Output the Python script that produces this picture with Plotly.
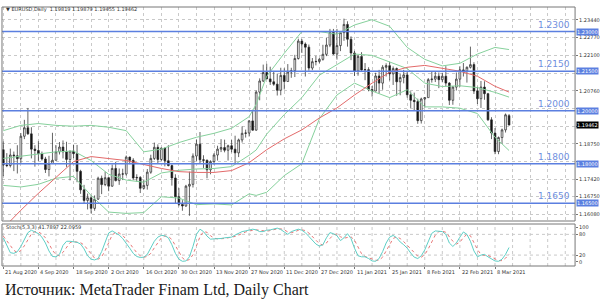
import plotly.graph_objects as go

# ---------------- data ----------------
bars = list(range(145))
opens = [1.1853,1.1795,1.1793,1.1833,1.1830,1.1819,1.1904,1.1936,1.1913,1.1855,
         1.1850,1.1838,1.1818,1.1778,1.1801,1.1813,1.1845,1.1863,1.1845,1.1816,
         1.1848,1.1838,1.1771,1.1701,1.1661,1.1671,1.1631,1.1666,1.1745,1.1721,
         1.1747,1.1715,1.1782,1.1736,1.1761,1.1761,1.1825,1.1813,1.1746,1.1748,
         1.1707,1.1718,1.1768,1.1820,1.1862,1.1816,1.1859,1.1811,1.1793,1.1746,
         1.1675,1.1646,1.1640,1.1715,1.1722,1.1829,1.1874,1.1815,1.1813,1.1777,
         1.1808,1.1833,1.1855,1.1861,1.1851,1.1868,1.1855,1.1841,1.1890,1.1915,
         1.1916,1.1962,1.1927,1.2071,1.2113,1.2145,1.2121,1.2110,1.2101,1.2078,
         1.2134,1.2111,1.2147,1.2152,1.2198,1.2264,1.2253,1.2241,1.2162,1.2186,
         1.2187,1.2195,1.2214,1.2249,1.2297,1.2215,1.2247,1.2296,1.2327,1.2271,
         1.2219,1.2151,1.2206,1.2155,1.2156,1.2081,1.2075,1.2132,1.2105,1.2165,
         1.2171,1.2140,1.2160,1.2110,1.2126,1.2136,1.2061,1.2040,1.2035,1.1963,
         1.2045,1.2050,1.2118,1.2120,1.2131,1.2118,1.2131,1.2105,1.2040,1.2090,
         1.2120,1.2155,1.2150,1.2165,1.2175,1.2075,1.2046,1.2090,1.2065,1.1966,
         1.1916,1.1846,1.1899,1.1928,1.19819]
highs = [1.1884,1.1840,1.1857,1.1846,1.1870,1.1916,1.1966,1.2011,1.1938,1.1870,
         1.1885,1.1846,1.1826,1.1830,1.1917,1.1870,1.1882,1.1888,1.1883,1.1846,
         1.1872,1.1871,1.1777,1.1720,1.1687,1.1681,1.1680,1.1751,1.1755,1.1770,
         1.1748,1.1797,1.1807,1.1782,1.1781,1.1831,1.1827,1.1821,1.1760,1.1753,
         1.1740,1.1780,1.1834,1.1880,1.1873,1.1861,1.1861,1.1870,1.1797,1.1760,
         1.1708,1.1662,1.1720,1.1770,1.1839,1.1891,1.1920,1.1832,1.1816,1.1813,
         1.1840,1.1868,1.1893,1.1891,1.1872,1.1890,1.1906,1.1895,1.1941,1.1929,
         1.1965,1.2004,1.2077,1.2123,1.2175,1.2178,1.2167,1.2151,1.2141,1.2163,
         1.2161,1.2177,1.2163,1.2212,1.2273,1.2272,1.2259,1.2251,1.2200,1.2208,
         1.2200,1.2250,1.2276,1.2310,1.2310,1.2310,1.2300,1.2349,1.2339,1.2282,
         1.2227,1.2211,1.2222,1.2181,1.2165,1.2094,1.2144,1.2155,1.2173,1.2180,
         1.2185,1.2168,1.2164,1.2139,1.2155,1.2150,1.2074,1.2069,1.2046,1.2050,
         1.2050,1.2124,1.2150,1.2150,1.2145,1.2144,1.2169,1.2109,1.2094,1.2145,
         1.2169,1.2181,1.2168,1.2243,1.2184,1.2091,1.2113,1.2112,1.2068,1.1976,
         1.1935,1.1903,1.1933,1.1990,1.19879]
lows = [1.1753,1.1787,1.1786,1.1772,1.1763,1.1800,1.1893,1.1909,1.1820,1.1789,
        1.1810,1.1812,1.1765,1.1752,1.1800,1.1812,1.1835,1.1820,1.1788,1.1737,
        1.1821,1.1730,1.1686,1.1651,1.1627,1.1612,1.1622,1.1663,1.1685,1.1715,
        1.1696,1.1713,1.1733,1.1720,1.1738,1.1755,1.1798,1.1738,1.1732,1.1689,
        1.1703,1.1702,1.1762,1.1814,1.1802,1.1809,1.1790,1.1790,1.1717,1.1650,
        1.1639,1.1622,1.1637,1.1603,1.1710,1.1810,1.1800,1.1784,1.1745,1.1760,
        1.1797,1.1812,1.1844,1.1843,1.1812,1.1843,1.1801,1.1825,1.1880,1.1899,
        1.1903,1.1925,1.1925,1.2040,1.2109,1.2127,1.2098,1.2095,1.2058,1.2059,
        1.2081,1.2111,1.2125,1.2128,1.2194,1.2219,1.2130,1.2152,1.2154,1.2172,
        1.2180,1.2190,1.2207,1.2241,1.2212,1.2194,1.2226,1.2265,1.2243,1.2192,
        1.2132,1.2133,1.2152,1.2116,1.2074,1.2054,1.2074,1.2065,1.2080,1.2130,
        1.2115,1.2098,1.2057,1.2059,1.2104,1.2050,1.2011,1.2003,1.1951,1.1952,
        1.2012,1.2050,1.2107,1.2109,1.2086,1.2108,1.2093,1.2022,1.2023,1.2077,
        1.2091,1.2130,1.2107,1.2160,1.2064,1.2026,1.2011,1.2042,1.1962,1.1893,
        1.1836,1.1836,1.1876,1.1918,1.19455]
closes = [1.1795,1.1793,1.1833,1.1830,1.1819,1.1904,1.1936,1.1913,1.1855,1.1850,
          1.1838,1.1818,1.1778,1.1801,1.1813,1.1845,1.1863,1.1845,1.1816,1.1848,
          1.1838,1.1771,1.1701,1.1661,1.1671,1.1631,1.1666,1.1745,1.1721,1.1747,
          1.1715,1.1782,1.1736,1.1761,1.1761,1.1825,1.1813,1.1746,1.1748,1.1707,
          1.1718,1.1768,1.1820,1.1862,1.1816,1.1859,1.1811,1.1793,1.1746,1.1675,
          1.1646,1.1640,1.1715,1.1722,1.1829,1.1874,1.1815,1.1813,1.1777,1.1808,
          1.1833,1.1855,1.1861,1.1851,1.1868,1.1855,1.1841,1.1890,1.1915,1.1916,
          1.1962,1.1927,1.2071,1.2113,1.2145,1.2121,1.2110,1.2101,1.2078,1.2134,
          1.2111,1.2147,1.2152,1.2198,1.2264,1.2253,1.2241,1.2162,1.2186,1.2187,
          1.2195,1.2214,1.2249,1.2297,1.2215,1.2247,1.2296,1.2327,1.2271,1.2219,
          1.2151,1.2206,1.2155,1.2156,1.2081,1.2075,1.2132,1.2105,1.2165,1.2171,
          1.2140,1.2160,1.2110,1.2126,1.2136,1.2061,1.2040,1.2035,1.1963,1.2045,
          1.2050,1.2118,1.2120,1.2131,1.2118,1.2131,1.2105,1.2040,1.2090,1.2120,
          1.2155,1.2150,1.2165,1.2175,1.2075,1.2046,1.2090,1.2065,1.1966,1.1916,
          1.1846,1.1899,1.1928,1.1985,1.19462]

bb_x = [0,5,10,15,20,25,30,35,40,45,50,55,60,65,70,72,75,80,85,90,95,100,105,110,115,120,125,130,135,140,144]
bb_upper = [1.1925,1.1945,1.1952,1.1945,1.1942,1.1945,1.1938,1.1925,1.1845,1.1855,1.1880,1.1900,1.1915,1.1934,1.1978,
            1.2025,1.2131,1.2218,1.2300,1.2300,1.2290,1.2325,1.2345,1.2320,1.2240,1.2195,1.2170,1.2180,1.2215,1.2240,1.2232]
bb_mid = [1.1820,1.1828,1.1838,1.1845,1.1848,1.1812,1.1760,1.1738,1.1730,1.1765,1.1775,1.1780,1.1782,1.1789,1.1832,
          1.1852,1.1912,1.1986,1.2050,1.2135,1.2175,1.2215,1.2210,1.2185,1.2160,1.2105,1.2092,1.2095,1.2088,1.2070,1.2052]
bb_lower = [1.1718,1.1712,1.1722,1.1745,1.1752,1.1680,1.1617,1.1612,1.1615,1.1675,1.1670,1.1645,1.1648,1.1644,1.1686,
            1.1680,1.1692,1.1755,1.1800,1.1970,1.2060,1.2105,1.2075,1.2050,1.2080,1.2015,1.2015,1.2010,1.1990,1.1900,1.1850]

ma_x = [0,2,5,10,15,20,25,30,35,40,45,50,55,60,65,70,75,80,85,90,95,100,105,110,115,120,125,130,135,140,144]
ma_vals = [1.1560,1.1583,1.1624,1.1688,1.1748,1.1808,1.1827,1.1819,1.1812,1.1797,1.1782,1.1770,1.1767,1.1767,1.1774,
           1.1804,1.1853,1.1894,1.1928,1.1973,1.2011,1.2060,1.2105,1.2146,1.2165,1.2172,1.2161,1.2150,1.2131,1.2093,1.2071]

stoch_k = [70,50,27,25,30,45,65,85,92,88,82,72,55,32,16,15,22,48,60,60,
           58,57,52,38,18,8,6,10,30,60,84,90,85,78,68,55,40,25,16,13,
           14,22,40,60,72,77,76,70,50,25,8,2,3,15,45,80,95,88,75,66,
           67,67,68,70,72,72,78,84,88,90,92,95,93,88,88,92,93,96,98,94,
           88,80,88,92,95,92,85,74,62,52,46,50,70,85,82,76,62,70,82,68,
           40,18,15,15,10,3,2,10,30,55,72,77,70,58,50,40,26,14,10,18,
           35,62,83,90,90,88,80,55,45,55,72,87,80,60,32,15,20,22,15,8,
           3,2,8,22,42]
stoch_d = [75,62,49,34,27,33,47,65,81,88,87,81,70,53,34,21,18,28,43,56,
           59,58,56,49,36,21,11,8,15,33,58,78,86,84,77,67,54,40,27,18,
           14,16,25,41,57,70,75,74,65,48,28,12,4,7,21,47,73,88,86,76,
           69,67,67,68,70,71,74,78,83,87,90,92,93,92,90,89,91,94,96,96,
           93,87,85,87,92,93,91,84,74,63,53,49,55,68,79,81,73,69,71,73,
           63,42,24,16,13,9,5,5,14,32,52,68,73,68,59,49,39,27,17,14,
           21,38,60,78,88,89,86,74,60,52,57,71,80,76,57,36,22,19,19,15,
           9,4,4,11,22]
stoch_levels = [20, 80]
stoch_ticks = [0, 20, 80, 100]

price_ticks = [1.23440,1.22770,1.22100,1.21430,1.20760,1.20090,1.19420,1.18750,1.18080,1.17420,1.16750,1.16080]
hidden_ticks = [1.21430, 1.20090, 1.19420, 1.18080]
levels = [1.2300, 1.2150, 1.2000, 1.1800, 1.1650]
level_text = ["1.2300", "1.2150", "1.2000", "1.1800", "1.1650"]
level_box_text = ["1.23000", "1.21500", "1.20000", "1.18000", "1.16500"]
last_price = 1.19462

date_bars = [0,10,20,30,40,50,60,70,80,90,100,110,120,130,140]
date_labels = ["21 Aug 2020","4 Sep 2020","18 Sep 2020","2 Oct 2020","16 Oct 2020","30 Oct 2020",
               "13 Nov 2020","27 Nov 2020","11 Dec 2020","27 Dec 2020","11 Jan 2021","25 Jan 2021",
               "8 Feb 2021","22 Feb 2021","8 Mar 2021"]

header = "\u25bc EURUSD,Daily  1.19819 1.19879 1.19455 1.19462"
stoch_header = "Stoch(5,3,3) 41.7897 22.0959"
caption = "Источник: MetaTrader Finam Ltd, Daily Chart"

# ---------------- layout geometry ----------------
W, H = 600, 300
XL, XR = 2 / W, 577 / W
MAIN = [1 - 221 / H, 1 - 7 / H]
SUB = [1 - 266 / H, 1 - 224 / H]
GRID = "#c9c9c9"
LEVEL_C = "#5b7fe0"
TXT = "#333333"
SMALL = dict(family="DejaVu Sans", size=5, color=TXT)

fig = go.Figure()

fig.add_trace(go.Candlestick(
    x=bars, open=opens, high=highs, low=lows, close=closes,
    xaxis="x", yaxis="y", whiskerwidth=0, showlegend=False, hoverinfo="skip",
    increasing=dict(line=dict(color="#222222", width=0.7), fillcolor="#ffffff"),
    decreasing=dict(line=dict(color="#222222", width=0.7), fillcolor="#111111"),
))
for arr in (bb_upper, bb_mid, bb_lower):
    fig.add_trace(go.Scatter(x=bb_x, y=arr, mode="lines", xaxis="x", yaxis="y",
                             line=dict(color="#86d19c", width=1), showlegend=False, hoverinfo="skip"))
fig.add_trace(go.Scatter(x=ma_x, y=ma_vals, mode="lines", xaxis="x", yaxis="y",
                         line=dict(color="#e36a6a", width=1), showlegend=False, hoverinfo="skip"))

fig.add_trace(go.Scatter(x=bars, y=stoch_d, mode="lines", xaxis="x2", yaxis="y2",
                         line=dict(color="#e87878", width=1, dash="dot"), showlegend=False, hoverinfo="skip"))
fig.add_trace(go.Scatter(x=bars, y=stoch_k, mode="lines", xaxis="x2", yaxis="y2",
                         line=dict(color="#5fcfc6", width=1), showlegend=False, hoverinfo="skip"))

xr = [-0.37, -0.37 + 575 / 3.524]
fig.update_layout(
    width=W, height=H, margin=dict(l=0, r=0, t=0, b=0),
    paper_bgcolor="white", plot_bgcolor="white", showlegend=False,
    xaxis=dict(domain=[XL, XR], range=xr, anchor="y", showticklabels=False, ticks="",
               showgrid=True, gridcolor=GRID, griddash="dot", gridwidth=1, tick0=0, dtick=5,
               zeroline=False, rangeslider=dict(visible=False), showline=False),
    yaxis=dict(domain=MAIN, range=[1.15832, 1.23930], side="right", anchor="x",
               tickvals=price_ticks,
               ticktext=["" if v in hidden_ticks else f"{v:.5f}" for v in price_ticks],
               tickfont=SMALL, ticks="outside", ticklen=2, tickcolor="#777",
               showgrid=True, gridcolor=GRID, griddash="dot", zeroline=False, showline=False),
    xaxis2=dict(domain=[XL, XR], range=xr, anchor="y2", matches="x", showticklabels=False,
                tickvals=date_bars, ticks="outside", ticklen=2, tickcolor="#777",
                showgrid=False, zeroline=False, showline=False),
    yaxis2=dict(domain=SUB, range=[-11.6, 110], side="right", anchor="x2",
                tickvals=stoch_ticks, ticktext=[str(v) for v in stoch_ticks],
                tickfont=SMALL, ticks="outside", ticklen=2, tickcolor="#777",
                showgrid=False, zeroline=False, showline=False),
)

shapes = []
for b in range(0, 165, 5):
    shapes.append(dict(type="line", xref="x2", yref="paper", x0=b, x1=b, y0=SUB[0], y1=SUB[1],
                       line=dict(color=GRID, width=1, dash="dot"), layer="below"))
for lv in stoch_levels:
    shapes.append(dict(type="line", xref="paper", yref="y2", x0=XL, x1=XR, y0=lv, y1=lv,
                       line=dict(color=GRID, width=1, dash="dot"), layer="below"))
for lv in levels:
    shapes.append(dict(type="line", xref="paper", yref="y", x0=XL, x1=XR, y0=lv, y1=lv,
                       line=dict(color=LEVEL_C, width=1.5)))
shapes.append(dict(type="rect", xref="paper", yref="paper", x0=XL, x1=XR, y0=MAIN[0], y1=MAIN[1],
                   line=dict(color="#777777", width=1)))
shapes.append(dict(type="rect", xref="paper", yref="paper", x0=XL, x1=XR, y0=SUB[0], y1=SUB[1],
                   line=dict(color="#777777", width=1)))
fig.update_layout(shapes=shapes)

ann = []
ann.append(dict(text=header, xref="paper", yref="paper", x=4 / W, y=1 - 10 / H, xanchor="left",
                yanchor="middle", showarrow=False, font=SMALL))
ann.append(dict(text=stoch_header, xref="paper", yref="paper", x=4 / W, y=1 - 227 / H, xanchor="left",
                yanchor="middle", showarrow=False, font=SMALL))
for lv, t, bt in zip(levels, level_text, level_box_text):
    ann.append(dict(text=t, xref="paper", yref="y", x=574 / W, y=lv, xanchor="right", yanchor="bottom",
                    showarrow=False, font=dict(family="DejaVu Sans", size=9, color="#6f8fe0")))
    ann.append(dict(text=bt, xref="paper", yref="y", x=578 / W, y=lv, xanchor="left", yanchor="middle",
                    showarrow=False, bgcolor=LEVEL_C, borderpad=0,
                    font=dict(family="DejaVu Sans", size=5, color="white")))
ann.append(dict(text=f"{last_price:.5f}", xref="paper", yref="y", x=578 / W, y=last_price, xanchor="left",
                yanchor="middle", showarrow=False, bgcolor="#000000", borderpad=0,
                font=dict(family="DejaVu Sans", size=5, color="white")))
for b, t in zip(date_bars, date_labels):
    ann.append(dict(text=t, xref="x2", yref="paper", x=b, y=1 - 267 / H, xanchor="left", yanchor="top",
                    showarrow=False, font=SMALL))
ann.append(dict(text=caption, xref="paper", yref="paper", x=3 / W, y=1 - 290 / H, xanchor="left",
                yanchor="middle", showarrow=False,
                font=dict(family="Liberation Serif", size=16, color="#1a1a1a")))
fig.update_layout(annotations=ann)

fig.write_html("out.html")
